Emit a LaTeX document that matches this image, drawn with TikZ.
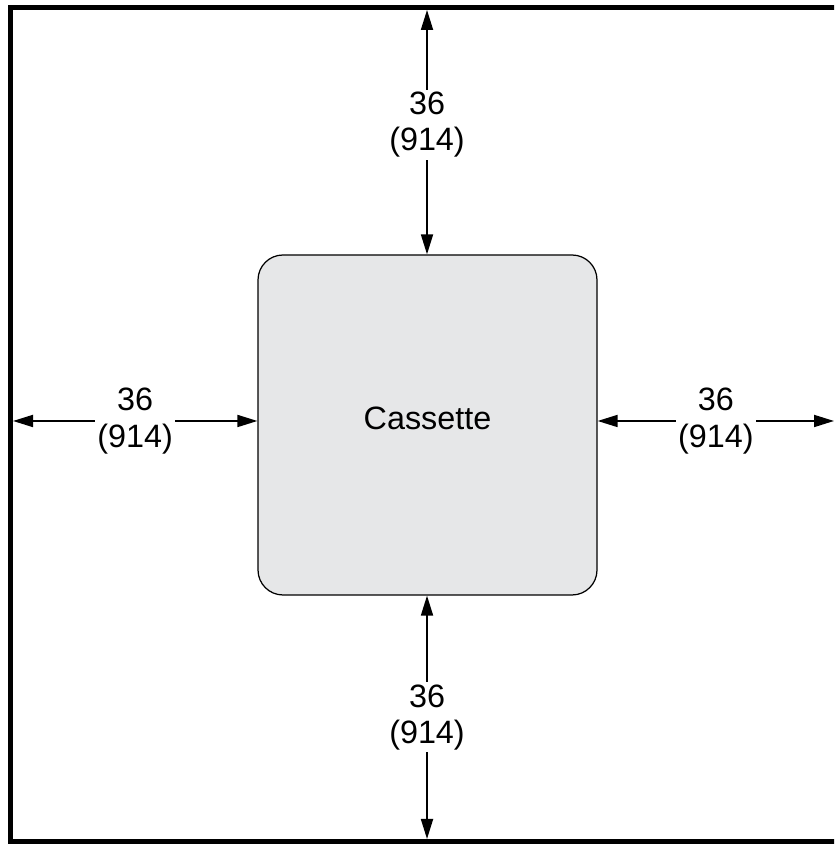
\documentclass[tikz,border=0pt]{standalone}
\usepackage{fontspec}
\setmainfont{Liberation Sans}
\usetikzlibrary{arrows.meta}
\definecolor{boxgray}{HTML}{E6E7E8}
\tikzset{
    dim/.style={{Triangle[length=2mm,width=1.2mm]}-{Triangle[length=2mm,width=1.2mm]}, line width=.5pt},
    lab/.style={fill=white, align=center, inner sep=.6pt, font=\fontsize{9.2}{10.3}\selectfont}
}
\begin{document}
\begin{tikzpicture}
            \clip (0,0) rectangle (8.34,8.44);
            \draw[line width=1.6pt] (0.105,0.025) rectangle (8.6,8.365);
            \draw (4.275,4.19) node[draw, line width=.35pt, fill=boxgray, rounded corners=.25cm, minimum width=3.39cm, minimum height=3.4cm, text depth=4pt, font=\fontsize{9.2}{10.3}\selectfont] (cas) {Cassette};

            \coordinate (t) at (4.27,8.34);
            \coordinate (b) at (4.27,0.05);
            \coordinate (l) at (0.13,4.23);
            \coordinate (r) at (8.34,4.23);

            \draw[dim] (t) -- node[lab, pos=.47] {36\\(914)} (t |- cas.north);
            \draw[dim] (b |- cas.south) -- node[lab] {36\\(914)} (b);
            \draw[dim] (l) -- node[lab] {36\\(914)} (l -| cas.west);
            \draw[dim] (r -| cas.east) -- node[lab] {36\\(914)} (r);
\end{tikzpicture}
\end{document}
